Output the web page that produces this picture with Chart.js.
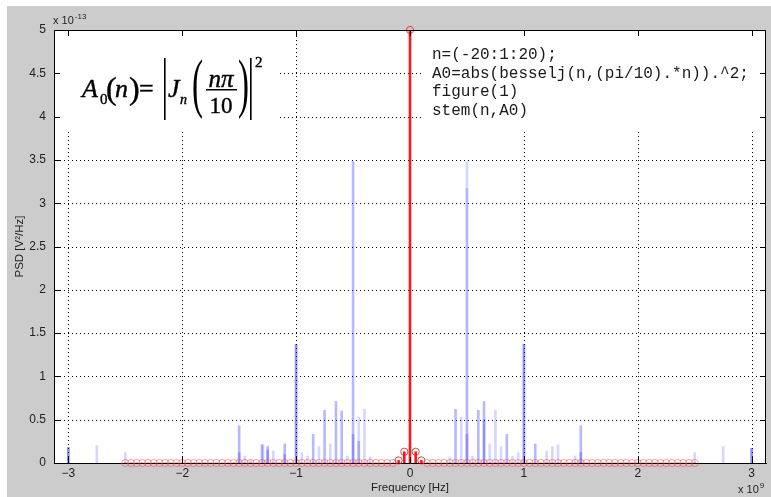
<!DOCTYPE html>
<html>
<head>
<meta charset="utf-8">
<script src="https://cdn.jsdelivr.net/npm/chart.js@4.4.0/dist/chart.umd.min.js"></script>
<style>
  html, body { margin: 0; padding: 0; background: #fff; }
  canvas { display: block; }
</style>
</head>
<body>
<canvas id="psd" width="771" height="497"></canvas>
<script>
// frequency axis is in units of 1e9 Hz, PSD axis in units of 1e-13 V^2/Hz
const xTicks = [-3, -2, -1, 0, 1, 2, 3];
const yTicks = [0, 0.5, 1, 1.5, 2, 2.5, 3, 3.5, 4, 4.5, 5];

// measured spectrum lines (blue), split by how strongly they show up
const mainFreq = [-3.0, -1.5, -1.3, -1.25, -1.1, -1.0, -0.85, -0.75, -0.65, -0.6, -0.5,
                  0.4, 0.6, 0.65, 0.85, 1.0, 1.1, 1.5, 3.0];
const mainPsd  = [0.18, 0.43, 0.21, 0.19, 0.22, 1.37, 0.33, 0.61, 0.71, 0.60, 3.48,
                  0.62, 0.61, 0.71, 0.33, 1.37, 0.22, 0.43, 0.17];

const faintFreq = [-2.75, -2.5, -1.45, -1.4, -1.29, -1.2, -0.95, -0.9, -0.8, -0.7, -0.55, -0.45, -0.4, -0.35,
                   0.35, 0.45, 0.5, 0.5, 0.55, 0.7, 0.75, 0.8, 0.9, 0.95, 1.2, 1.25, 1.3, 1.45, 2.5, 2.75];
const faintPsd  = [0.20, 0.12, 0.08, 0.03, 0.21, 0.14, 0.12, 0.08, 0.19, 0.22, 0.08, 0.53, 0.62, 0.07,
                   0.07, 0.53, 3.48, 3.17, 0.08, 0.22, 0.61, 0.19, 0.08, 0.12, 0.14, 0.19, 0.21, 0.08, 0.12, 0.19];

// overlapping lines, where two traces stack up
const coreFreq = [-3.0, -1.5, -1.25, -1.1, -1.0, -0.5, -0.45, 0.5, 0.65, 1.0, 1.5, 3.0];
const corePsd  = [0.18, 0.12, 0.15, 0.10, 1.37, 0.33, 0.25, 0.33, 0.50, 1.37, 0.12, 0.17];

// stem(n, A0) model, 101 samples from -2.5 to 2.5 (x1e9 Hz)
const redStart = -2.5;
const redStep = 0.05;
const redPsd = [
  0, 0, 0, 0, 0, 0, 0, 0, 0, 0,
  0, 0, 0, 0, 0, 0, 0, 0, 0, 0,
  0, 0, 0, 0, 0, 0, 0, 0, 0, 0,
  0, 0, 0, 0, 0, 0, 0, 0, 0, 0,
  0, 0, 0, 0, 0, 0, 0, 0, 0.03, 0.13,
  5.0,
  0.13, 0.03, 0, 0, 0, 0, 0, 0, 0, 0,
  0, 0, 0, 0, 0, 0, 0, 0, 0, 0,
  0, 0, 0, 0, 0, 0, 0, 0, 0, 0,
  0, 0, 0, 0, 0, 0, 0, 0, 0, 0,
  0, 0, 0, 0, 0, 0, 0, 0, 0, 0
];
const redFreq = redPsd.map((_, i) => +(redStart + i * redStep).toFixed(2));

const codeLines = [
  'n=(-20:1:20);',
  'A0=abs(besselj(n,(pi/10).*n)).^2;',
  'figure(1)',
  'stem(n,A0)'
];

function pairs(xs, ys) {
  return xs.map((x, i) => ({ x: x, y: ys[i] }));
}

const SANS = '"Liberation Sans", Arial, Helvetica, sans-serif';
const SERIF = '"Liberation Serif", "Times New Roman", serif';
const MONO = '"Liberation Mono", "Courier New", monospace';

Chart.defaults.font.family = SANS;
Chart.defaults.font.size = 11;
Chart.defaults.color = '#222';

// text with a hairline outline so the serif glyphs come out a bit heavier
function heavyText(ctx, s, x, y) {
  ctx.fillText(s, x, y);
  ctx.strokeText(s, x, y);
}

function bigParen(ctx, ch, x) {
  // stretched bracket around the fraction
  ctx.save();
  ctx.translate(x, 0);
  ctx.scale(0.5, 1);
  ctx.font = '66px ' + SERIF;
  ctx.fillText(ch, 0, 105);
  ctx.restore();
}

function drawFormula(ctx) {
  ctx.save();
  ctx.fillStyle = '#000';
  ctx.strokeStyle = '#000';
  ctx.lineWidth = 0.4;
  ctx.textAlign = 'left';
  ctx.textBaseline = 'alphabetic';
  ctx.font = 'italic 26px ' + SERIF;
  heavyText(ctx, 'A', 82, 97);
  ctx.font = '15px ' + SERIF;
  heavyText(ctx, '0', 100, 104);
  ctx.font = '32px ' + SERIF;
  heavyText(ctx, '(', 106, 99);
  ctx.font = 'italic 26px ' + SERIF;
  heavyText(ctx, 'n', 115, 97);
  ctx.font = '32px ' + SERIF;
  heavyText(ctx, ')', 129, 99);
  ctx.font = '26px ' + SERIF;
  heavyText(ctx, '=', 139, 97);
  ctx.fillRect(164, 58, 1.6, 62);
  ctx.font = 'italic 26px ' + SERIF;
  heavyText(ctx, 'J', 168, 97);
  ctx.font = 'italic 14px ' + SERIF;
  heavyText(ctx, 'n', 180, 104);
  bigParen(ctx, '(', 192);
  ctx.textAlign = 'center';
  ctx.font = 'italic 25px ' + SERIF;
  heavyText(ctx, 'n\u03c0', 221, 87);
  ctx.fillRect(206, 89, 31, 1.5);
  ctx.font = '23px ' + SERIF;
  heavyText(ctx, '10', 221, 113);
  ctx.textAlign = 'left';
  bigParen(ctx, ')', 238);
  ctx.fillRect(250, 58, 1.6, 62);
  ctx.font = '15px ' + SERIF;
  heavyText(ctx, '2', 255, 67);
  ctx.restore();
}

function drawCode(ctx) {
  ctx.save();
  ctx.fillStyle = '#1a1a1a';
  ctx.font = '16px ' + MONO;
  ctx.textAlign = 'left';
  ctx.textBaseline = 'middle';
  codeLines.forEach((line, i) => ctx.fillText(line, 432, 55 + i * 18.5));
  ctx.restore();
}

function drawExponent(ctx, x, y, base, power) {
  ctx.save();
  ctx.fillStyle = '#222';
  ctx.textAlign = 'left';
  ctx.textBaseline = 'middle';
  ctx.font = '11px ' + SANS;
  ctx.fillText(base, x, y);
  const w = ctx.measureText(base).width;
  ctx.font = '8px ' + SANS;
  ctx.fillText(power, x + w + 1, y - 4);
  ctx.restore();
}

// dotted grid, one dot every 4 px
function drawGrid(chart) {
  const { ctx, chartArea: a, scales } = chart;
  ctx.save();
  ctx.fillStyle = '#000';
  xTicks.forEach(v => {
    const px = Math.round(scales.x.getPixelForValue(v));
    for (let py = a.top + 2; py < a.bottom; py += 4) ctx.fillRect(px, py, 1, 1);
  });
  yTicks.slice(1, -1).forEach(v => {
    const py = Math.round(scales.y.getPixelForValue(v));
    for (let px = a.left + 2; px < a.right; px += 4) ctx.fillRect(px, py, 1, 1);
  });
  ctx.restore();
}

const figure = {
  id: 'figure',
  beforeDraw(chart) {
    const { ctx, chartArea: a } = chart;
    ctx.save();
    ctx.fillStyle = '#fff';
    ctx.fillRect(0, 0, chart.width, chart.height);
    ctx.fillStyle = '#cccccc';
    ctx.fillRect(7, 6, chart.width - 7, chart.height - 6);
    ctx.fillStyle = '#fff';
    ctx.fillRect(a.left, a.top, a.right - a.left, a.bottom - a.top);
    ctx.restore();
  },
  beforeDatasetsDraw(chart) {
    const { ctx, chartArea: a } = chart;
    drawGrid(chart);
    // blank panels behind the equation and the code listing
    ctx.save();
    ctx.fillStyle = '#fff';
    ctx.fillRect(a.left + 1, a.top + 1, 222, 98);
    ctx.fillRect(423, a.top + 1, a.right - 424, 98);
    ctx.restore();
  },
  afterDraw(chart) {
    const { ctx, chartArea: a, scales } = chart;
    ctx.save();
    ctx.strokeStyle = '#000';
    ctx.lineWidth = 1;
    ctx.beginPath();
    ctx.moveTo(a.left, a.top + 0.5);
    ctx.lineTo(a.right, a.top + 0.5);
    ctx.moveTo(a.right - 0.5, a.top);
    ctx.lineTo(a.right - 0.5, a.bottom);
    // tick marks point inwards on all four sides
    xTicks.forEach(v => {
      const px = Math.round(scales.x.getPixelForValue(v)) + 0.5;
      ctx.moveTo(px, a.bottom);
      ctx.lineTo(px, a.bottom - 6);
      ctx.moveTo(px, a.top);
      ctx.lineTo(px, a.top + 6);
    });
    yTicks.forEach(v => {
      const py = Math.round(scales.y.getPixelForValue(v)) + 0.5;
      ctx.moveTo(a.left, py);
      ctx.lineTo(a.left + 6, py);
      ctx.moveTo(a.right, py);
      ctx.lineTo(a.right - 6, py);
    });
    ctx.stroke();
    ctx.restore();

    drawFormula(ctx);
    drawCode(ctx);
    drawExponent(ctx, 53, 21, 'x 10', '-13');
    drawExponent(ctx, 738, 490, 'x 10', '9');
  }
};

new Chart(document.getElementById('psd'), {
  type: 'bar',
  data: {
    datasets: [
      {
        type: 'scatter',
        data: pairs(redFreq, redPsd),
        order: 0,
        clip: false,
        showLine: false,
        pointRadius: 3.6,
        pointBorderWidth: 1,
        pointBackgroundColor: 'rgba(0,0,0,0)',
        pointBorderColor: c => (c.raw && c.raw.y > 0) ? 'rgba(240,20,20,0.8)' : 'rgba(250,60,60,0.5)'
      },
      {
        data: pairs(redFreq, redPsd),
        order: 1,
        backgroundColor: 'rgb(240,30,30)',
        barThickness: 2
      },
      {
        data: pairs(coreFreq, corePsd),
        order: 2,
        backgroundColor: 'rgba(0,0,255,0.22)',
        barThickness: 2
      },
      {
        data: pairs(mainFreq, mainPsd),
        order: 3,
        backgroundColor: 'rgba(0,0,255,0.28)',
        barThickness: 2
      },
      {
        data: pairs(faintFreq, faintPsd),
        order: 4,
        backgroundColor: 'rgba(0,0,255,0.16)',
        barThickness: 2
      }
    ]
  },
  options: {
    responsive: false,
    animation: false,
    events: [],
    layout: { padding: { top: 30, right: 3, left: 0, bottom: 0 } },
    datasets: { bar: { grouped: false, borderWidth: 0 } },
    plugins: {
      legend: { display: false },
      tooltip: { enabled: false }
    },
    scales: {
      x: {
        type: 'linear',
        min: -3.126,
        max: 3.126,
        offset: false,
        afterBuildTicks: s => { s.ticks = xTicks.map(v => ({ value: v })); },
        afterFit: s => { s.height = 34; },
        ticks: {
          padding: 3,
          color: '#222',
          font: { size: 12 },
          callback: v => v < 0 ? '\u2212' + Math.abs(v) : String(v)
        },
        grid: { display: false, offset: false, drawTicks: false },
        border: { display: true, color: '#000', width: 1 },
        title: { display: true, text: 'Frequency [Hz]', color: '#222', font: { size: 11.5 }, padding: { top: 2, bottom: 2 } }
      },
      y: {
        type: 'linear',
        min: 0,
        max: 5,
        afterBuildTicks: s => { s.ticks = yTicks.map(v => ({ value: v })); },
        afterFit: s => { s.width = 54; },
        ticks: {
          padding: 8,
          color: '#222',
          font: { size: 12 },
          callback: v => String(v)
        },
        grid: { display: false, drawTicks: false },
        border: { display: true, color: '#000', width: 1 },
        title: { display: true, text: 'PSD [V\u00b2/Hz]', color: '#222', font: { size: 11.5 }, padding: { top: 13, bottom: 13 } }
      }
    }
  },
  plugins: [figure]
});
</script>
</body>
</html>
